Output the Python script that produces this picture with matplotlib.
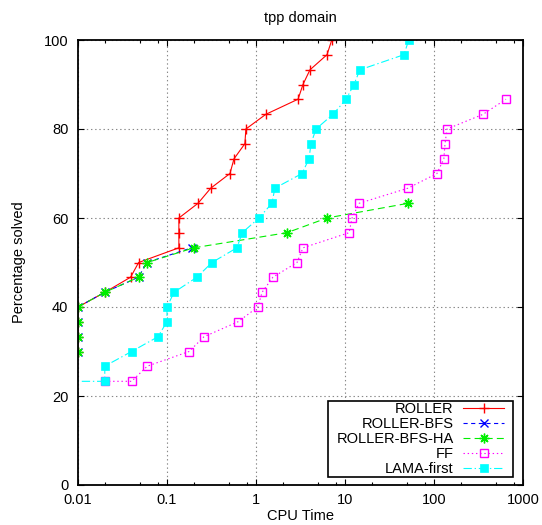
import matplotlib
matplotlib.use('Agg')
import matplotlib.pyplot as plt
from matplotlib.ticker import LogLocator, NullFormatter
from matplotlib.path import Path

plt.rcParams['font.family'] = ['Liberation Sans', 'DejaVu Sans']
plt.rcParams['lines.scale_dashes'] = False

# CPU time (s) / percentage of tpp problems solved
roller_t = [0.01, 0.01, 0.01, 0.01, 0.02, 0.039, 0.048, 0.136, 0.136, 0.136, 0.223,
            0.31, 0.51, 0.566, 0.75, 0.77, 1.29, 2.97, 3.37, 4.04, 6.28, 7.1]
roller_p = [30, 33.3, 36.7, 40, 43.3, 46.7, 50, 53.3, 56.7, 60, 63.3,
            66.7, 70, 73.3, 76.7, 80, 83.3, 86.7, 90, 93.3, 96.7, 100]

bfs_t = [0.01, 0.01, 0.01, 0.01, 0.02, 0.048, 0.059, 0.19]
bfs_p = [30, 33.3, 36.7, 40, 43.3, 46.7, 50, 53.3]

ha_t = [0.01, 0.01, 0.01, 0.01, 0.02, 0.048, 0.06, 0.2, 2.23, 6.28, 51]
ha_p = [30, 33.3, 36.7, 40, 43.3, 46.7, 50, 53.3, 56.7, 60, 63.3]

ff_t = [0.02, 0.04, 0.06, 0.177, 0.26, 0.63, 1.05, 1.17, 1.55, 2.89, 3.37,
        11.1, 12.0, 14.4, 51, 108, 129, 133, 140, 356, 644]
ff_p = [23.3, 23.3, 26.7, 30, 33.3, 36.7, 40, 43.3, 46.7, 50, 53.3,
        56.7, 60, 63.3, 66.7, 70, 73.3, 76.7, 80, 83.3, 86.7]

lama_t = [0.005, 0.02, 0.02, 0.04, 0.079, 0.1, 0.1, 0.12, 0.217, 0.32, 0.61, 0.70,
          1.08, 1.51, 1.63, 3.29, 3.94, 4.15, 4.72, 7.33, 10.3, 12.6, 14.7, 46, 52]
lama_p = [23.3, 23.3, 26.7, 30, 33.3, 36.7, 40, 43.3, 46.7, 50, 53.3, 56.7,
          60, 63.3, 66.7, 70, 73.3, 76.7, 80, 83.3, 86.7, 90, 93.3, 96.7, 100]

xticks = [0.01, 0.1, 1, 10, 100, 1000]
xticklabels = ['0.01', '0.1', '1', '10', '100', '1000']
yticks = [0, 20, 40, 60, 80, 100]

fig = plt.figure(figsize=(5.42, 5.25), dpi=100)
ax = fig.add_axes([78 / 542, 1 - 485 / 525, 445 / 542, 445 / 525])

lw = 0.8
ax.plot(roller_t, roller_p, color='#ff0000', lw=lw, marker='+', ms=7, mew=1,
        label='ROLLER')
ax.plot(bfs_t, bfs_p, color='#0000ff', lw=lw, ls=(0, (3, 2.5)), marker='x', ms=5.5,
        mew=1, label='ROLLER-BFS')
ax.plot(ha_t, ha_p, color='#00ee00', lw=lw, ls=(0, (5, 3)), marker=(8, 2, 0), ms=7,
        mew=1, label='ROLLER-BFS-HA')
ax.plot(ff_t, ff_p, color='#ff00ff', lw=lw, ls=(0, (1, 2)), marker='s', ms=5.5,
        mfc='none', mew=1, label='FF')
ax.plot(lama_t, lama_p, color='#00ffff', lw=lw, ls=(0, (6, 2, 1, 2)), marker='s',
        ms=5.5, mew=0.5, label='LAMA-first')

ax.set_xscale('log')
ax.set_xlim(0.01, 1000)
ax.set_ylim(0, 100)
ax.set_xticks(xticks)
ax.set_xticklabels(xticklabels)
ax.xaxis.set_minor_locator(LogLocator(base=10, subs=(2, 5, 8), numticks=20))
ax.xaxis.set_minor_formatter(NullFormatter())
ax.set_yticks(yticks)

ax.tick_params(which='both', direction='in', top=True, right=True, labelsize=10.5)
ax.tick_params(which='major', length=4, width=0.8)
ax.tick_params(which='minor', length=2.5, width=0.8)
ax.tick_params(axis='x', pad=6)
ax.tick_params(axis='y', pad=7)
for s in ax.spines.values():
    s.set_linewidth(1.3)

ax.grid(True, which='major', color='#888888', ls=(0, (1, 2)), lw=0.8)

ax.set_title('tpp domain', fontsize=10.5, pad=13)
ax.set_xlabel('CPU Time', fontsize=10.5, labelpad=1)
ax.set_ylabel('Percentage solved', fontsize=10.5, labelpad=13)

leg = ax.legend(loc='lower right', bbox_to_anchor=((505 - 78) / 445, 8 / 445),
                borderaxespad=0, markerfirst=False, fancybox=False, framealpha=1,
                edgecolor='black', fontsize=10.5, handlelength=2.8,
                handletextpad=0.68, labelspacing=0.08, borderpad=0.05)
leg.get_frame().set_linewidth(1.2)


def wide_box(x0, y0, width, height, mutation_size):
    px = 0.55 * mutation_size
    x1 = x0 + width + px
    x0 = x0 - px
    y1 = y0 + height
    return Path([(x0, y0), (x1, y0), (x1, y1), (x0, y1), (x0, y0)], closed=True)


leg.get_frame().set_boxstyle(wide_box)

fig.savefig('out.png', dpi=100)
